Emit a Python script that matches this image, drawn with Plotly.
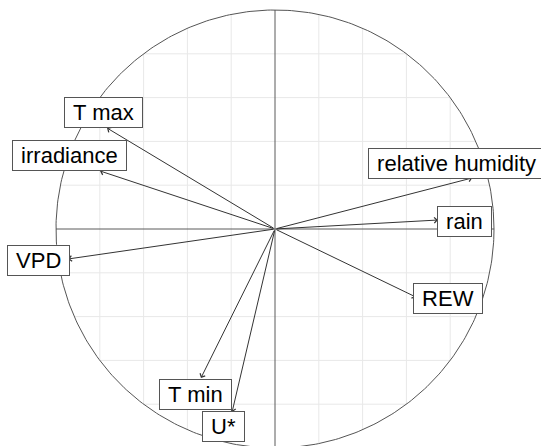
import numpy as np
import plotly.graph_objects as go

# Variable correlations with the two principal components
variables = ["T max", "irradiance", "relative humidity", "rain", "VPD", "T min", "U*", "REW"]
dim1 = [-0.767, -0.799, 0.900, 0.744, -0.945, -0.338, -0.196, 0.644]
dim2 = [0.461, 0.265, 0.233, 0.041, -0.137, -0.680, -0.836, -0.311]

# Repelled label placement (centres of label boxes)
label_x = [-0.783, -0.938, 0.829, 0.865, -1.082, -0.365, -0.237, 0.792]
label_y = [0.532, 0.336, 0.301, 0.034, -0.144, -0.756, -0.904, -0.317]

grid_vals = [-0.8, -0.6, -0.4, -0.2, 0.2, 0.4, 0.6, 0.8]

fig = go.Figure()

# grid clipped to the unit circle
gx, gy = [], []
for g in grid_vals:
    h = float(np.sqrt(1 - g * g))
    gx += [g, g, None]
    gy += [-h, h, None]
    gx += [-h, h, None]
    gy += [g, g, None]
fig.add_trace(go.Scatter(x=gx, y=gy, mode="lines",
                         line=dict(color="#e8e8e8", width=1),
                         hoverinfo="skip", showlegend=False))

# axes through origin
fig.add_trace(go.Scatter(x=[-1, 1, None, 0, 0], y=[0, 0, None, -1, 1], mode="lines",
                         line=dict(color="#5a5a5a", width=1),
                         hoverinfo="skip", showlegend=False))

# unit circle
t = np.linspace(0, 2 * np.pi, 400)
fig.add_trace(go.Scatter(x=np.cos(t), y=np.sin(t), mode="lines",
                         line=dict(color="#555555", width=1),
                         hoverinfo="skip", showlegend=False))

annotations = []
for v, x, y in zip(variables, dim1, dim2):
    annotations.append(dict(x=x, y=y, ax=0, ay=0, xref="x", yref="y",
                            axref="x", ayref="y", text="", showarrow=True,
                            arrowhead=4, arrowsize=1.1, arrowwidth=1,
                            arrowcolor="#333333", standoff=0))
for v, lx, ly in zip(variables, label_x, label_y):
    annotations.append(dict(x=lx, y=ly, xref="x", yref="y", text="\u00a0" + v + "\u00a0",
                            showarrow=False, bgcolor="white",
                            bordercolor="#555555", borderwidth=1, borderpad=2,
                            font=dict(family="Liberation Sans, Arial", size=22, color="black"),
                            xanchor="center", yanchor="middle"))

W, H = 541, 446
cx, cy, r = 275, 229, 219
fig.update_layout(
    width=W, height=H,
    margin=dict(l=0, r=0, t=0, b=0),
    paper_bgcolor="white", plot_bgcolor="white",
    xaxis=dict(range=[-cx / r, (W - cx) / r], visible=False, showgrid=False, zeroline=False),
    yaxis=dict(range=[(cy - H) / r, cy / r], visible=False, showgrid=False, zeroline=False),
    annotations=annotations,
    showlegend=False,
)

fig.write_html("out.html", config={"displayModeBar": False},
               post_script="document.body.style.margin='0';")
